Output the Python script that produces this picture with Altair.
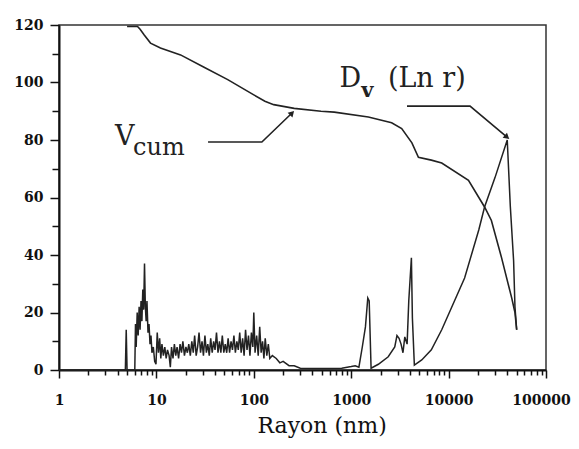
import altair as alt
import pandas as pd

# D_v(Ln r) curve: (radius nm, value)
dv_points = [
    (1, 0), (4.8, 0), (4.9, 14), (5.0, 0), (6.0, 0), (6.1, 16), (6.2, 8), (6.35, 20),
    (6.5, 12), (6.65, 22), (6.8, 14), (6.95, 24), (7.1, 17), (7.25, 28), (7.4, 21),
    (7.55, 37), (7.7, 22), (7.85, 17), (8.0, 24), (8.2, 13), (8.4, 16), (8.6, 9),
    (8.8, 12), (9.0, 6), (9.3, 8), (9.6, 3), (9.9, 2), (10.2, 13), (10.5, 6), (10.8, 11),
    (11.1, 4), (11.4, 9), (11.8, 5), (12.2, 8), (12.6, 4), (13.0, 7), (13.5, 5), (13.9, 1),
    (14.3, 8), (14.8, 4), (15.3, 9), (15.8, 5), (16.3, 8), (16.9, 4), (17.5, 9), (18.1, 6),
    (18.7, 10), (19.4, 5), (20.1, 8), (20.8, 6), (21.5, 9), (22.3, 5), (23.1, 10), (23.9, 6),
    (24.7, 12), (25.6, 5), (26.5, 8), (27.4, 13), (28.4, 6), (29.4, 10), (30.4, 5),
    (31.5, 12), (32.6, 6), (33.7, 9), (34.9, 5), (36.1, 11), (37.4, 6), (38.7, 10),
    (40.0, 7), (41.4, 13), (42.9, 6), (44.4, 10), (45.9, 6), (47.5, 12), (49.2, 6),
    (50.9, 9), (52.7, 6), (54.5, 11), (56.4, 6), (58.4, 10), (60.4, 7), (62.5, 12),
    (64.7, 6), (67.0, 10), (69.3, 7), (71.7, 13), (74.2, 6), (76.8, 11), (79.5, 5),
    (82.3, 14), (85.2, 7), (88.2, 12), (91.3, 5), (94.5, 13), (97.8, 8), (100, 20),
    (103, 6), (107, 12), (111, 5), (115, 15), (119, 6), (123, 10), (127, 4), (131, 11),
    (136, 5), (141, 9), (146, 4), (155, 5), (170, 4), (185, 2.5), (200, 3), (230, 1.5),
    (260, 1.5), (300, 0.6), (400, 0.5), (600, 0.5), (800, 0.6), (1000, 1.2), (1100, 1.5),
    (1200, 1), (1300, 8), (1400, 15), (1480, 25), (1530, 24), (1600, 0.6), (1900, 2),
    (2400, 4.6), (2800, 8), (2950, 12), (3100, 11), (3250, 9), (3400, 6), (3550, 11.5),
    (3750, 9), (3900, 24), (4150, 39), (4250, 18), (4450, 1.7), (5300, 3.5), (6650, 7),
    (8500, 14), (14600, 32), (20400, 48.7), (23400, 56.7), (30000, 67), (40000, 80),
    (43000, 57), (46500, 38), (48000, 22), (50000, 14),
]

# V_cum curve
vcum_points = [
    (5.0, 119.5), (6.4, 119.5), (6.8, 118.5), (7.5, 116.5), (8.7, 113.7), (11, 112),
    (17.7, 109.6), (30.5, 105.4), (54, 101), (100, 95.7), (130, 93.5), (160, 92.3),
    (260, 91), (490, 90), (670, 89.7), (1500, 88), (2600, 86), (3300, 84), (4200, 79),
    (4900, 74), (6650, 73), (8500, 72), (16000, 66), (23400, 56.7), (27500, 52),
    (35000, 39), (44500, 25), (48000, 20), (50000, 14),
]

# annotation leader lines
vcum_arrow = [(33.9, 79.3), (121, 79.3), (247, 89.4)]
dv_arrow = [(3740, 91.8), (16600, 91.8), (39800, 81)]

# annotation labels: (text, x, y, size, weight)
labels = [
    ("V", 3.76, 78.3, 27, "normal"),
    ("cum", 5.75, 74.8, 24, "normal"),
    ("D", 760, 98.4, 27, "normal"),
    ("v", 1270, 95.0, 21, "bold"),
    ("(Ln r)", 2380, 98.4, 27, "normal"),
]

x_ticks = [1, 2, 3, 4, 5, 6, 7, 8, 9,
           10, 20, 30, 40, 50, 60, 70, 80, 90,
           100, 200, 300, 400, 500, 600, 700, 800, 900,
           1000, 2000, 3000, 4000, 5000, 6000, 7000, 8000, 9000,
           10000, 20000, 30000, 40000, 50000, 60000, 70000, 80000, 90000, 100000]
y_ticks = [0, 10, 20, 30, 40, 50, 60, 70, 80, 90, 100, 110, 120]

def frame(points, name):
    return pd.DataFrame({"x": [p[0] for p in points], "y": [p[1] for p in points],
                         "i": list(range(len(points))), "s": name})

dv_df = frame(dv_points, "dv")
vc_df = frame(vcum_points, "vc")
arrows_df = pd.concat([frame(vcum_arrow, "a1"), frame(dv_arrow, "a2")])
heads_df = pd.DataFrame({"x": [vcum_arrow[-1][0], dv_arrow[-1][0]],
                         "y": [vcum_arrow[-1][1], dv_arrow[-1][1]],
                         "ang": [44, 130]})
lab_df = pd.DataFrame({"t": [l[0] for l in labels], "x": [l[1] for l in labels],
                       "y": [l[2] for l in labels], "fs": [l[3] for l in labels],
                       "w": [l[4] for l in labels]})

serif = "DejaVu Serif"
xaxis = alt.Axis(values=x_ticks, format="d",
                 labelExpr="indexof(['1','10','100','1000','10000','100000'], datum.label) >= 0 ? datum.label : ''",
                 tickSize={"condition": {"test": "indexof([1,10,100,1000,10000,100000], datum.value) >= 0", "value": 8}, "value": 5},
                 labelOffset={"condition": {"test": "datum.value == 100000", "value": -5}, "value": 0},
                 labelPadding=15, labelFont=serif, labelFontSize=14, labelFontWeight="bold",
                 labelColor="#111", labelFlush=False, labelOverlap=False,
                 title="Rayon (nm)", titleFont=serif, titleFontSize=22, titleFontWeight="normal",
                 titleColor="#111", titleAnchor="start", titleX=198, titleY=62,
                 titleBaseline="alphabetic")
yaxis = alt.Axis(values=y_ticks,
                 labelExpr="datum.value % 20 == 0 ? datum.label : ''",
                 tickSize={"condition": {"test": "datum.value % 20 == 0", "value": 9}, "value": 7},
                 labelPadding=7, labelFont=serif, labelFontSize=14, labelFontWeight="bold",
                 labelColor="#111", labelFlush=False, labelOverlap=False, title="")

X = alt.X("x:Q", scale=alt.Scale(type="log", domain=[1, 100000], nice=False), axis=xaxis)
Y = alt.Y("y:Q", scale=alt.Scale(domain=[0, 120], nice=False), axis=yaxis)

ink = "#222222"
dv_line = alt.Chart(dv_df).mark_line(color=ink, strokeWidth=1.5).encode(x=X, y=Y, order="i:Q")
vc_line = alt.Chart(vc_df).mark_line(color=ink, strokeWidth=1.6).encode(x=X, y=Y, order="i:Q")
arrow_lines = alt.Chart(arrows_df).mark_line(color=ink, strokeWidth=1.6).encode(
    x=X, y=Y, detail="s:N", order="i:Q")
heads = alt.Chart(heads_df).mark_point(shape="triangle-up", filled=True, color=ink,
                                       size=45, opacity=1).encode(
    x=X, y=Y, angle=alt.Angle("ang:Q", scale=None))
text_normal = alt.Chart(lab_df).transform_filter("datum.w == 'normal'").mark_text(
    align="left", baseline="alphabetic", font=serif, color="#222").encode(
    x=X, y=Y, text="t:N", size=alt.Size("fs:Q", scale=None))
text_bold = alt.Chart(lab_df).transform_filter("datum.w == 'bold'").mark_text(
    align="left", baseline="alphabetic", font=serif, color="#222", fontWeight="bold").encode(
    x=X, y=Y, text="t:N", size=alt.Size("fs:Q", scale=None))

chart = alt.layer(dv_line, vc_line, arrow_lines, heads, text_normal, text_bold).properties(
    width=487, height=345,
    autosize=alt.AutoSizeParams(type="none"),
    padding={"left": 51, "top": 17, "right": 25, "bottom": 68},
).configure_view(stroke="#333", strokeWidth=1.5).configure_axis(
    grid=False, domainColor="#111", domainWidth=2, tickColor="#111", tickWidth=1.5)

chart.save("out.html", embed_options={"renderer": "svg", "actions": False})
